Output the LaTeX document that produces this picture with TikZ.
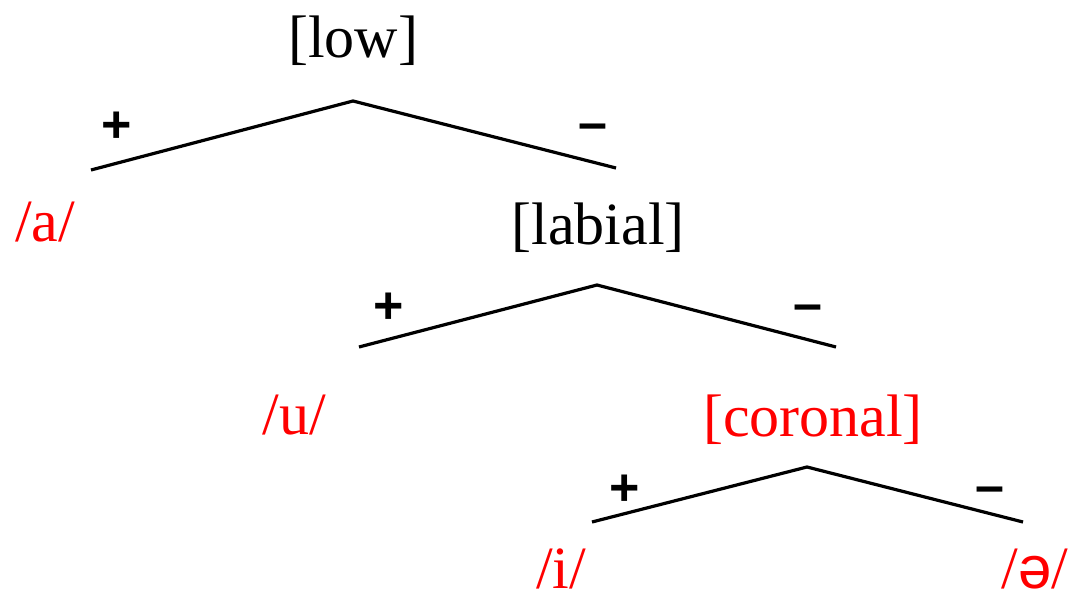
\documentclass[tikz,border=0pt]{standalone}
\usepackage{fontspec}
\setmainfont{Liberation Serif}
\newfontfamily\signfont{Liberation Sans}
\begin{document}
\begin{tikzpicture}[x=1pt,y=-1pt,
  lbl/.style={font=\fontsize{60}{62}\selectfont, anchor=base, inner sep=0pt},
  red lbl/.style={lbl, text=red},
  sgn/.style={font=\signfont\bfseries\fontsize{52}{54}\selectfont, anchor=center, inner sep=0pt},
  branch/.style={line width=3.2pt, line cap=butt}]
\useasboundingbox (0,0) rectangle (1069,599);
% tree 1
\coordinate (t1) at (353,101);
\coordinate (t1l) at (91,170);
\coordinate (t1r) at (616,168);
\draw[branch] (t1l) -- (t1) -- (t1r);
\node[lbl] (low) at (353,58) {[low]};
\node[sgn] (p1) at (117,127) {+};
\node[sgn] (m1) at (593,132) {\textendash};
\node[red lbl] (a) at (45,241) {/a/};
% tree 2
\coordinate (t2) at (597,285);
\coordinate (t2l) at (359,347);
\coordinate (t2r) at (836,347);
\draw[branch] (t2l) -- (t2) -- (t2r);
\node[lbl] (labial) at (598,244) {[labial]};
\node[sgn] (p2) at (389,308) {+};
\node[sgn] (m2) at (808,313) {\textendash};
\node[red lbl] (u) at (294,434) {/u/};
% tree 3
\coordinate (t3) at (807,467);
\coordinate (t3l) at (592,522);
\coordinate (t3r) at (1023,522);
\draw[branch] (t3l) -- (t3) -- (t3r);
\node[red lbl] (coronal) at (813,436) {[coronal]};
\node[sgn] (p3) at (625,490) {+};
\node[sgn] (m3) at (990,495) {\textendash};
\node[red lbl] (i) at (561,588) {/i/};
\node[red lbl] (schwa) at (1035,588) {/{\signfont ə}/};
\end{tikzpicture}
\end{document}
